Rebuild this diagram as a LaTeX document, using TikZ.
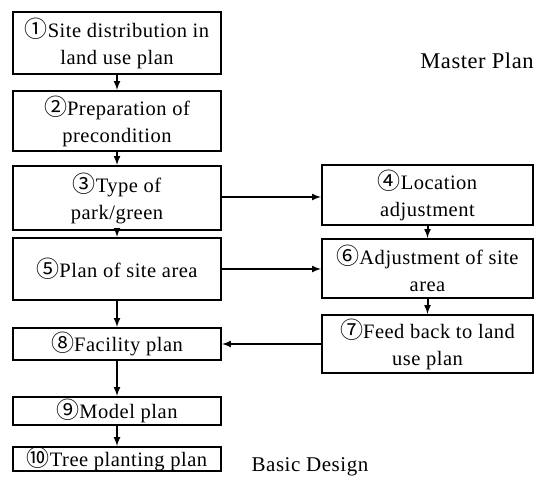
\documentclass[tikz,border=0pt]{standalone}
\usepackage{fontspec}
\setmainfont{Liberation Serif}[LetterSpace=2.5]
\newfontfamily\circfont{Noto Sans CJK JP}
\newcommand{\cnum}[1]{{\circfont\fontsize{23}{23}\selectfont #1}}
\begin{document}
\begin{tikzpicture}[x=1pt,y=-1pt,
    stepbox/.style={draw, line width=2.2pt, align=center, inner sep=0pt,
      font=\fontsize{20.5}{27}\selectfont},
    leftbox/.style={stepbox, minimum width=208pt},
    rightbox/.style={stepbox, minimum width=211pt},
    flow/.style={->,>=latex, line width=2pt}]
  \useasboundingbox (0,0) rectangle (546,489);
  % left column
  \node[leftbox, minimum height=62pt] (site) at (117,43) {\cnum{①}Site distribution in\\land use plan};
  \node[leftbox, minimum height=60pt] (prep) at (117,121) {\cnum{②}Preparation of\\precondition};
  \node[leftbox, minimum height=64pt] (type) at (117,198) {\cnum{③}Type of\\park/green};
  \node[leftbox, minimum height=62pt] (area) at (117,269) {\cnum{⑤}Plan of site area};
  \node[leftbox, minimum height=32pt] (facil) at (117,344) {\cnum{⑧}Facility plan};
  \node[leftbox, minimum height=28pt] (model) at (117,411) {\cnum{⑨}Model plan};
  \node[leftbox, minimum height=22pt] (tree) at (117,459) {\cnum{⑩}Tree planting plan};
  % right column
  \node[rightbox, minimum height=60pt] (loc) at (427.5,195) {\cnum{④}Location\\adjustment};
  \node[rightbox, minimum height=59pt] (adj) at (427.5,268.5) {\cnum{⑥}Adjustment of site\\area};
  \node[rightbox, minimum height=58pt] (feed) at (427.5,344) {\cnum{⑦}Feed back to land\\use plan};
  % stage labels
  \node[font=\fontsize{22.5}{22}\selectfont] (master) at (477,61) {Master Plan};
  \node[font=\fontsize{21}{22}\selectfont] (basic) at (310,467) {Basic Design};
  % connectors
  \draw[flow] (site) -- (prep);
  \draw[flow] (prep) -- (type);
  \draw[flow] (type) -- (area);
  \draw[flow] (area) -- (facil);
  \draw[flow] (facil) -- (model);
  \draw[flow] (model) -- (tree);
  \draw[flow] (loc) -- (adj);
  \draw[flow] (adj) -- (feed);
  \draw[flow] ([yshift=1pt]type.east) -- ([yshift=1pt]type.east -| loc.west);
  \draw[flow] (area.east) -- (area.east -| adj.west);
  \draw[flow] (feed) -- (facil);
\end{tikzpicture}
\end{document}
